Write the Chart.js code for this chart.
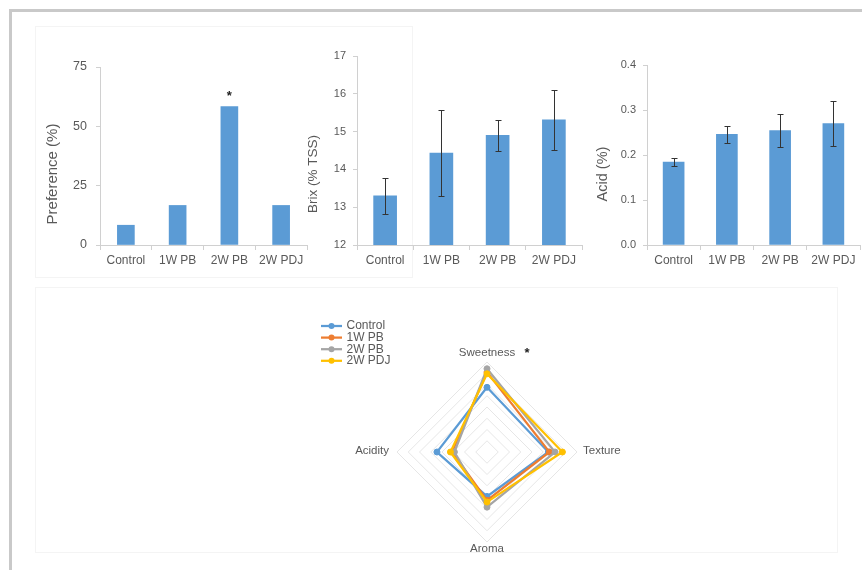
<!DOCTYPE html>
<html>
<head>
<meta charset="utf-8">
<title>Sensory and quality evaluation</title>
<script src="https://cdn.jsdelivr.net/npm/chart.js@4.4.0/dist/chart.umd.min.js"></script>
<style>
  html, body { margin: 0; padding: 0; background: #fff; }
  body { width: 862px; height: 570px; position: relative; overflow: hidden; }
  .frame { position: absolute; left: 9px; top: 9px; width: 853px; height: 561px;
           border-top: 3px solid #c9c9c9; border-left: 3px solid #c9c9c9; box-sizing: border-box; }
  .panel { position: absolute; border: 1px solid #f4f4f4; box-sizing: border-box; }
  canvas { position: absolute; }
</style>
</head>
<body>
<div class="frame"></div>
<div class="panel" style="left:35px;top:26px;width:378px;height:252px"></div>
<div class="panel" style="left:35px;top:287px;width:803px;height:266px"></div>

<canvas id="prefChart"  width="280" height="250" style="left:36px;top:30px"></canvas>
<canvas id="brixChart"  width="290" height="250" style="left:296px;top:30px"></canvas>
<canvas id="acidChart"  width="272" height="250" style="left:590px;top:30px"></canvas>
<canvas id="radarChart" width="374" height="260" style="left:300px;top:300px"></canvas>

<script>
// ---- data ----
const categories = ['Control', '1W PB', '2W PB', '2W PDJ'];

const preference = [8.33, 16.67, 58.33, 16.67];
const preferenceMarks = ['', '', '*', ''];
const preferenceTicks = [0, 25, 50, 75];

const brixMean = [13.30, 14.43, 14.90, 15.31];
const brixErr = [0.48, 1.13, 0.40, 0.79];
const brixTicks = [12, 13, 14, 15, 16, 17];

const acidMean = [0.184, 0.246, 0.254, 0.270];
const acidErr = [0.009, 0.019, 0.037, 0.051];
const acidTicks = [0.0, 0.1, 0.2, 0.3, 0.4];

const sensoryAttributes = ['Sweetness', 'Texture', 'Aroma', 'Acidity'];
const sensoryMarks = ['*', '', '', ''];
const sensoryControl = [5.75, 5.45, 3.95, 4.45];
const sensory1WPB   = [7.10, 5.55, 4.30, 3.10];
const sensory2WPB   = [7.40, 6.05, 4.90, 2.90];
const sensory2WPDJ  = [6.95, 6.70, 4.45, 3.25];
const radarTicks = [0, 1, 2, 3, 4, 5, 6, 7, 8];

// ---- styling ----
const FONT = "'Liberation Sans', Arial, sans-serif";
const TEXT = '#595959';
const AXIS = '#d0d0d0';
const BAR = '#5B9BD5';
const SERIES_COLORS = ['#5B9BD5', '#ED7D31', '#A5A5A5', '#FFC000'];

// error bars drawn from each dataset's `errors` list
const errorBars = {
  id: 'errorBars',
  afterDatasetsDraw(chart) {
    const ds = chart.data.datasets[0];
    if (!ds.errors) return;
    const meta = chart.getDatasetMeta(0);
    const y = chart.scales.y;
    const ctx = chart.ctx;
    ctx.save();
    ctx.strokeStyle = '#333';
    ctx.lineWidth = 1;
    meta.data.forEach((bar, i) => {
      const top = Math.round(y.getPixelForValue(ds.data[i] + ds.errors[i])) + 0.5;
      const bot = Math.round(y.getPixelForValue(ds.data[i] - ds.errors[i])) + 0.5;
      const x = Math.round(bar.x) + 0.5;
      ctx.beginPath();
      ctx.moveTo(x, top); ctx.lineTo(x, bot);
      ctx.moveTo(x - 3, top); ctx.lineTo(x + 3, top);
      ctx.moveTo(x - 3, bot); ctx.lineTo(x + 3, bot);
      ctx.stroke();
    });
    ctx.restore();
  }
};

// significance marks above bars
const barMarks = {
  id: 'barMarks',
  afterDatasetsDraw(chart) {
    const ds = chart.data.datasets[0];
    if (!ds.marks) return;
    const meta = chart.getDatasetMeta(0);
    const ctx = chart.ctx;
    ctx.save();
    ctx.fillStyle = '#222';
    ctx.font = 'bold 13px ' + FONT;
    ctx.textAlign = 'center';
    ctx.textBaseline = 'middle';
    meta.data.forEach((bar, i) => {
      if (ds.marks[i]) ctx.fillText(ds.marks[i], bar.x, bar.y - 10);
    });
    ctx.restore();
  }
};

// rotated value-axis title placed left of the plot
function yTitle(text, dx, size) {
  return {
    id: 'yTitle',
    afterDraw(chart) {
      const a = chart.chartArea;
      const ctx = chart.ctx;
      ctx.save();
      ctx.translate(a.left + dx, a.bottom - 71);
      ctx.rotate(-Math.PI / 2);
      ctx.fillStyle = TEXT;
      ctx.font = size + 'px ' + FONT;
      ctx.textAlign = 'center';
      ctx.textBaseline = 'middle';
      ctx.fillText(text, 0, 0);
      ctx.restore();
    }
  };
}

function barChart(id, values, extra, ticks, cfg) {
  const dataset = Object.assign({ data: values, backgroundColor: BAR, barThickness: cfg.bar }, extra);
  return new Chart(document.getElementById(id), {
    type: 'bar',
    data: { labels: categories, datasets: [dataset] },
    options: {
      responsive: false,
      animation: false,
      layout: { padding: { top: cfg.padTop, right: cfg.padRight, left: 0, bottom: 0 } },
      plugins: { legend: { display: false }, tooltip: { enabled: false } },
      scales: {
        x: {
          grid: { offset: true, drawOnChartArea: false, tickLength: 5, color: AXIS },
          border: { color: AXIS },
          ticks: { color: TEXT, font: { family: FONT, size: 12 }, padding: 3, maxRotation: 0 },
          afterFit: s => { s.height = 35; }
        },
        y: {
          min: ticks[0],
          max: ticks[ticks.length - 1],
          afterBuildTicks: s => { s.ticks = ticks.map(v => ({ value: v })); },
          grid: { drawOnChartArea: false, tickLength: 4, color: AXIS },
          border: { color: AXIS },
          ticks: { color: TEXT, font: { family: FONT, size: cfg.tickSize }, padding: cfg.tickPad,
                   callback: cfg.fmt },
          afterFit: s => { s.width = cfg.axisWidth; }
        }
      }
    },
    plugins: [errorBars, barMarks, yTitle(cfg.title, cfg.titleDx, cfg.titleSize)]
  });
}

barChart('prefChart', preference, { marks: preferenceMarks }, preferenceTicks, {
  bar: 17, padTop: 37, padRight: 9, axisWidth: 64, tickSize: 12.5, tickPad: 9,
  fmt: v => String(v), title: 'Preference (%)', titleDx: -47, titleSize: 15
});

barChart('brixChart', brixMean, { errors: brixErr }, brixTicks, {
  bar: 23, padTop: 26, padRight: 4, axisWidth: 61, tickSize: 11, tickPad: 7,
  fmt: v => String(v), title: 'Brix (% TSS)', titleDx: -43.7, titleSize: 13.5
});

barChart('acidChart', acidMean, { errors: acidErr }, acidTicks, {
  bar: 21, padTop: 35, padRight: 2, axisWidth: 57, tickSize: 11, tickPad: 7,
  fmt: v => Number(v).toFixed(1), title: 'Acid (%)', titleDx: -43.7, titleSize: 14.5
});

// ---- radar: sensory attributes ----
const radarSeries = [
  { label: 'Control', data: sensoryControl },
  { label: '1W PB',   data: sensory1WPB },
  { label: '2W PB',   data: sensory2WPB },
  { label: '2W PDJ',  data: sensory2WPDJ }
];

const radarDecor = {
  id: 'radarDecor',
  afterDraw(chart) {
    const ctx = chart.ctx;
    const r = chart.scales.r;
    const max = radarTicks[radarTicks.length - 1];
    ctx.save();
    ctx.fillStyle = TEXT;
    ctx.font = '11.5px ' + FONT;
    ctx.textBaseline = 'middle';
    // attribute labels around the outer ring
    const offsets = [[0, -9, 'center'], [6, -1, 'left'], [0, 7, 'center'], [-8, -1, 'right']];
    sensoryAttributes.forEach((name, i) => {
      const p = r.getPointPositionForValue(i, max);
      const [ox, oy, align] = offsets[i];
      ctx.textAlign = align;
      ctx.fillText(name, p.x + ox, p.y + oy);
      if (sensoryMarks[i]) {
        const w = ctx.measureText(name).width;
        ctx.save();
        ctx.fillStyle = '#222';
        ctx.font = 'bold 13px ' + FONT;
        ctx.textAlign = 'center';
        ctx.fillText(sensoryMarks[i], p.x + ox + w / 2 + 12, p.y + oy);
        ctx.restore();
      }
    });
    // legend
    ctx.font = '12px ' + FONT;
    ctx.textAlign = 'left';
    chart.data.datasets.forEach((ds, i) => {
      const y = 26 + i * 11.6;
      ctx.strokeStyle = ds.borderColor;
      ctx.lineWidth = 2.25;
      ctx.beginPath();
      ctx.moveTo(21, y); ctx.lineTo(42, y);
      ctx.stroke();
      ctx.fillStyle = ds.borderColor;
      ctx.beginPath();
      ctx.arc(31.5, y, 3, 0, Math.PI * 2);
      ctx.fill();
      ctx.fillStyle = TEXT;
      ctx.fillText(ds.label, 46.5, y);
    });
    ctx.restore();
  }
};

new Chart(document.getElementById('radarChart'), {
  type: 'radar',
  data: {
    labels: sensoryAttributes,
    datasets: radarSeries.map((s, i) => ({
      label: s.label,
      data: s.data,
      borderColor: SERIES_COLORS[i],
      backgroundColor: SERIES_COLORS[i],
      pointBackgroundColor: SERIES_COLORS[i],
      pointBorderColor: SERIES_COLORS[i],
      pointBorderWidth: 1,
      pointRadius: 3,
      borderWidth: 2.25,
      fill: false,
      order: radarSeries.length - 1 - i
    }))
  },
  options: {
    responsive: false,
    animation: false,
    layout: { padding: { top: 62, bottom: 18, left: 0, right: 0 } },
    plugins: { legend: { display: false }, tooltip: { enabled: false } },
    scales: {
      r: {
        min: radarTicks[0],
        max: radarTicks[radarTicks.length - 1],
        afterBuildTicks: s => { s.ticks = radarTicks.map(v => ({ value: v })); },
        ticks: { display: false },
        grid: { color: '#e6e6e6', lineWidth: 1 },
        angleLines: { display: false },
        pointLabels: { display: false }
      }
    }
  },
  plugins: [radarDecor]
});
</script>
</body>
</html>
